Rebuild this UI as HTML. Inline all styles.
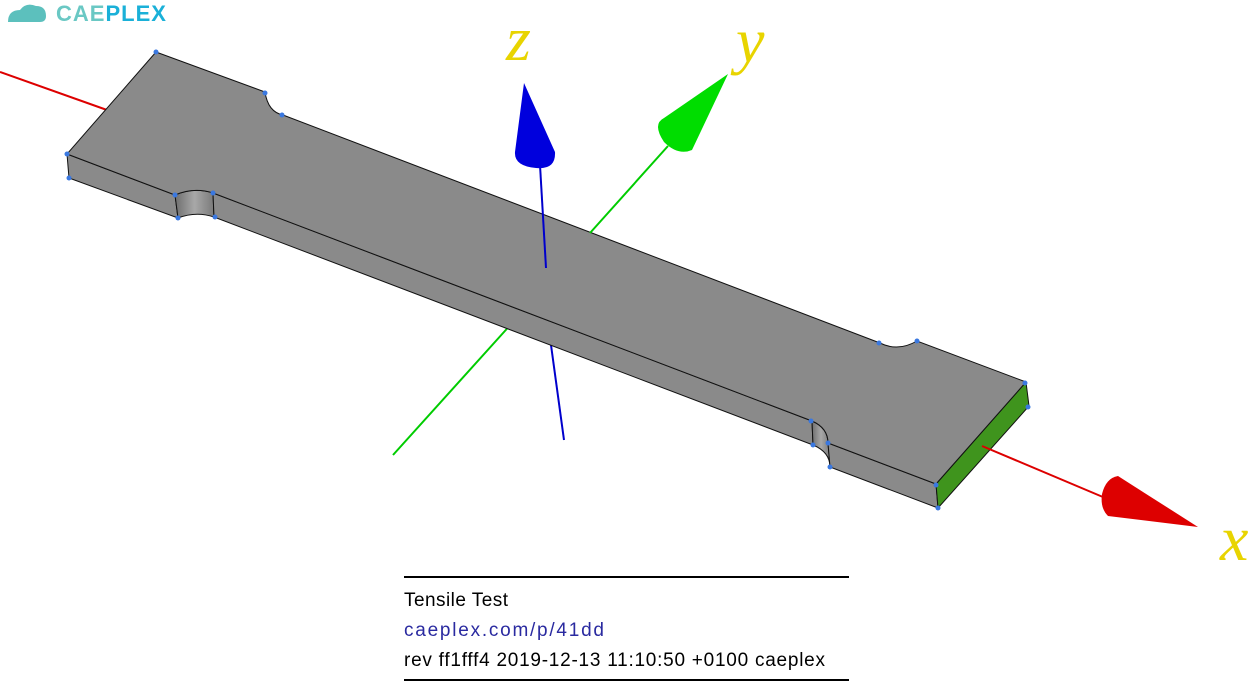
<!DOCTYPE html>
<html><head><meta charset="utf-8"><style>
html,body{margin:0;padding:0;background:#fff;width:1254px;height:682px;overflow:hidden}
svg{display:block}
</style></head><body>
<svg width="1254" height="682" viewBox="0 0 1254 682" xmlns="http://www.w3.org/2000/svg">
<defs>
<linearGradient id="notch" x1="0" x2="1"><stop offset="0" stop-color="#6e6e6e"/><stop offset="0.5" stop-color="#a8a8a8"/><stop offset="1" stop-color="#7a7a7a"/></linearGradient>
</defs>
<g>
<path d="M8 22 Q8 10 20 10 Q26 2 36 6 Q46 6 46 16 Q46 22 40 22 Z" fill="#5cc0bd"/>
<text x="56" y="21" font-family="Liberation Sans, sans-serif" font-weight="bold" font-size="22" fill="#6ac8c4" letter-spacing="1">CAE<tspan fill="#1ab0d8">PLEX</tspan></text>
</g>
<line x1="0" y1="72" x2="107" y2="110" stroke="#d00" stroke-width="2"/>
<line x1="551" y1="345" x2="564" y2="440" stroke="#0000cc" stroke-width="2"/>
<line x1="393" y1="455" x2="513" y2="322" stroke="#00cc00" stroke-width="2"/>
<g stroke="#111" stroke-width="1">
<polygon points="67,154 175,195 178,218 69,178" fill="#8a8a8a"/>
<path d="M175,195 Q194,187 213,193 L214,217 Q196,211 178,218 Z" fill="url(#notch)"/>
<polygon points="213,193 812,421 813,445 214,217" fill="#8a8a8a"/>
<path d="M812,421 Q828,428 828,443 L830,467 Q830,452 813,445 Z" fill="url(#notch)"/>
<polygon points="828,443 936,484 938,508 830,467" fill="#8a8a8a"/>
<polygon points="1026,382 1029,406 938,508 936,484" fill="#3f941d"/>
<path d="M156,52 L265,92 Q268,112 283,115 L880,343 Q898,352 917,341 L1026,382 L936,484 L828,443 Q828,428 812,421 L213,193 Q194,187 175,195 L67,154 Z" fill="#8a8a8a"/>
</g>
<g fill="#3a78e0">
<circle cx="156" cy="52" r="2.5"/><circle cx="265" cy="93" r="2.5"/><circle cx="282" cy="115" r="2.5"/><circle cx="67" cy="154" r="2.5"/><circle cx="69" cy="178" r="2.5"/><circle cx="175" cy="195" r="2.5"/><circle cx="178" cy="218" r="2.5"/><circle cx="213" cy="193" r="2.5"/><circle cx="215" cy="217" r="2.5"/><circle cx="879" cy="343" r="2.5"/><circle cx="917" cy="341" r="2.5"/><circle cx="1025" cy="383" r="2.5"/><circle cx="1028" cy="407" r="2.5"/><circle cx="811" cy="421" r="2.5"/><circle cx="813" cy="445" r="2.5"/><circle cx="828" cy="443" r="2.5"/><circle cx="830" cy="467" r="2.5"/><circle cx="936" cy="485" r="2.5"/><circle cx="938" cy="508" r="2.5"/>
</g>
<line x1="540" y1="165" x2="546" y2="268" stroke="#0000cc" stroke-width="2"/>
<line x1="590" y1="233" x2="668" y2="146" stroke="#00cc00" stroke-width="2"/>
<line x1="982" y1="446" x2="1110" y2="500" stroke="#d00" stroke-width="2"/>
<path d="M524,83 L555,152 Q556,170 536,168 Q514,166 515,152 Z" fill="#0000dd"/>
<path d="M728,74 L692,150 Q678,156 664,142 Q652,124 664,118 Z" fill="#00dd00"/>
<path d="M1198,527 L1108,516 Q1100,508 1102,494 Q1106,478 1118,476 Z" fill="#dd0000"/>
<text x="506" y="60" font-family="Liberation Serif, serif" font-style="italic" font-size="64" fill="#e8d400">z</text>
<text x="736" y="62" font-family="Liberation Serif, serif" font-style="italic" font-size="64" fill="#e8d400">y</text>
<text x="1220" y="560" font-family="Liberation Serif, serif" font-style="italic" font-size="64" fill="#e8d400">x</text>
<g font-family="Liberation Sans, sans-serif" font-size="19">
<line x1="404" y1="577" x2="849" y2="577" stroke="#000" stroke-width="2"/>
<text x="404" y="606" fill="#000" textLength="104">Tensile Test</text>
<text x="404" y="636" fill="#2a2aa0" textLength="200">caeplex.com/p/41dd</text>
<text x="404" y="666" fill="#000" textLength="421">rev ff1fff4 2019-12-13 11:10:50 +0100 caeplex</text>
<line x1="404" y1="680" x2="849" y2="680" stroke="#000" stroke-width="2"/>
</g>
</svg>
</body></html>
